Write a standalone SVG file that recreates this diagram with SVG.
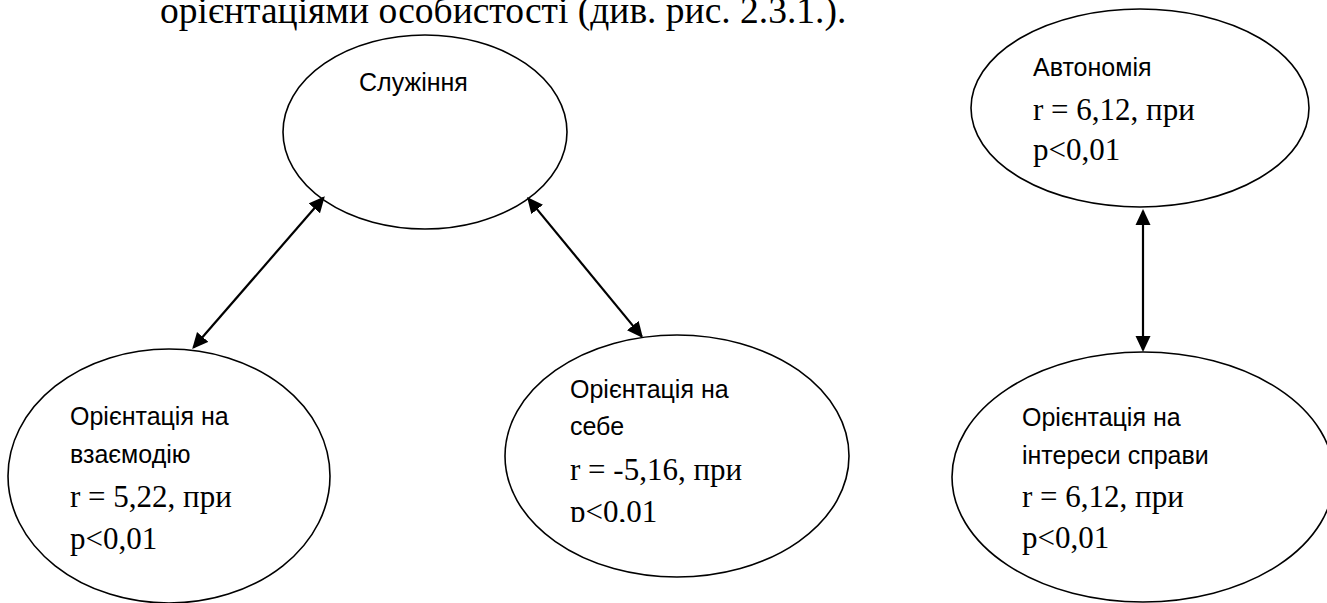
<svg xmlns="http://www.w3.org/2000/svg" width="1327" height="603" viewBox="0 0 1327 603">
<style>
.el{fill:#fff;stroke:#000;stroke-width:1.6}
.sans{font-family:"Liberation Sans",Arial,sans-serif;font-size:25px;fill:#000}
.serif{font-family:"Liberation Serif","Times New Roman",serif;font-size:31px;fill:#000}
.con{stroke:#000;stroke-width:2.2;fill:none;marker-start:url(#ah);marker-end:url(#ah)}
</style>
<defs>
<marker id="ah" markerUnits="userSpaceOnUse" markerWidth="16" markerHeight="16" viewBox="0 0 16 16" refX="14" refY="8" orient="auto-start-reverse">
<path d="M0,0.5 L16,8 L0,15.5 z" fill="#000"/>
</marker>
<clipPath id="clipMid"><rect x="500" y="330" width="360" height="192"/></clipPath>
</defs>
<rect width="1327" height="603" fill="#fff"/>
<text class="serif" x="160" y="23" style="font-size:37.5px">орієнтаціями особистості (див. рис. 2.3.1.).</text>

<g id="node-sluzhinnia">
<ellipse class="el" cx="425" cy="132" rx="142" ry="97"/>
<text class="sans" x="359" y="91">Служіння</text>
</g>

<g id="node-vzaiemodiia">
<ellipse class="el" cx="169" cy="476" rx="161" ry="127"/>
<text class="sans" x="70" y="425">Орієнтація на</text>
<text class="sans" x="70" y="463">взаємодію</text>
<text class="serif" x="70" y="507">r = 5,22, при</text>
<text class="serif" x="70" y="549">p&lt;0,01</text>
</g>

<g id="node-sebe">
<ellipse class="el" cx="677" cy="456" rx="172" ry="121"/>
<text class="sans" x="570" y="398">Орієнтація на</text>
<text class="sans" x="570" y="435">себе</text>
<text class="serif" x="570" y="480">r = -5,16, при</text>
<text class="serif" x="570" y="522" clip-path="url(#clipMid)">p&lt;0,01</text>
</g>

<g id="node-avtonomiia">
<ellipse class="el" cx="1140" cy="108" rx="169" ry="99"/>
<text class="sans" x="1033" y="76">Автономія</text>
<text class="serif" x="1033" y="120">r = 6,12, при</text>
<text class="serif" x="1033" y="160">p&lt;0,01</text>
</g>

<g id="node-sprava">
<ellipse class="el" cx="1143" cy="477" rx="191" ry="125"/>
<text class="sans" x="1022" y="426">Орієнтація на</text>
<text class="sans" x="1022" y="464">інтереси справи</text>
<text class="serif" x="1022" y="507">r = 6,12, при</text>
<text class="serif" x="1022" y="548">p&lt;0,01</text>
</g>

<g id="connectors">
<line class="con" x1="323.5" y1="197.8" x2="193.5" y2="347.5"/>
<line class="con" x1="528.3" y1="198.6" x2="641.7" y2="336.4"/>
<line class="con" x1="1143" y1="211" x2="1143" y2="350"/>
</g>
</svg>
